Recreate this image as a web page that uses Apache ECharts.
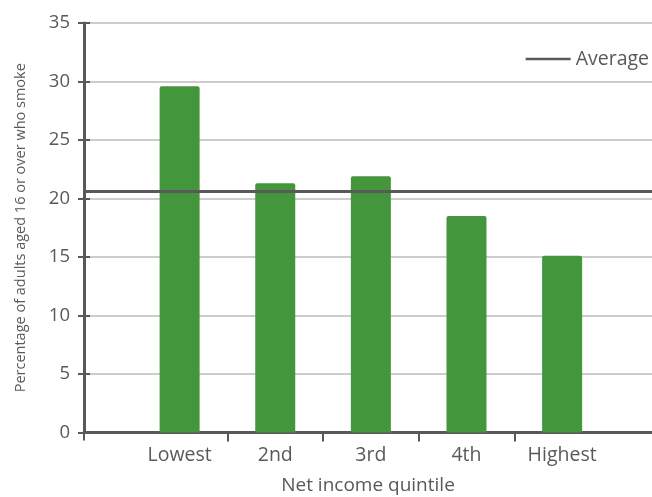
<!DOCTYPE html>
<html>
<head>
<meta charset="utf-8">
<script src="https://cdn.jsdelivr.net/npm/echarts@6/dist/echarts.min.js"></script>
<style>html,body{margin:0;padding:0;background:#fff}#c{width:652px;height:497px}</style>
</head>
<body>
<div id="c"></div>
<script>
const categories = ['Lowest', '2nd', '3rd', '4th', 'Highest'];
const smokers = [29.6, 21.3, 21.9, 18.5, 15.1];
const average = 20.6;
const yTicks = [0, 5, 10, 15, 20, 25, 30, 35];

const GREEN = '#43963b';
const DARK = '#595959';
const TXT = '#595959';
const FONT = '"Open Sans", sans-serif';

const xMin = 0, xMax = 5.94;
const catPos = categories.map((c, i) => i + 1);
const tickPos = [0].concat(categories.slice(1).map((c, i) => i + 1.5));

const chart = echarts.init(document.getElementById('c'), null, {renderer: 'canvas'});
const baseX = {
  type: 'value', min: xMin, max: xMax, gridIndex: 0,
  axisLine: {show: true, onZero: false, lineStyle: {color: DARK, width: 3}},
  splitLine: {show: false}
};
const baseY = {
  type: 'value', min: 0, max: 35, interval: 5, gridIndex: 0
};
chart.setOption({
  animation: false,
  grid: {left: 84, right: 0, top: 23, bottom: 64.5, containLabel: false, outerBoundsMode: 'none'},
  legend: {
    data: [{name: 'Average', icon: 'rect'}],
    right: -2, top: 44,
    itemWidth: 45, itemHeight: 2.5, itemGap: 10,
    textStyle: {color: TXT, fontSize: 19.5, fontFamily: FONT}
  },
  xAxis: [
    Object.assign({}, baseX, {
      name: 'Net income quintile', nameLocation: 'middle', nameGap: 44,
      nameTextStyle: {color: TXT, fontSize: 19, fontFamily: FONT},
      axisTick: {show: true, customValues: tickPos, length: 8, lineStyle: {color: DARK, width: 2}},
      axisLabel: {show: true, customValues: catPos, margin: 13, color: TXT, fontSize: 19.5, fontFamily: FONT,
        formatter: v => categories[Math.round(v) - 1] || ''}
    }),
    Object.assign({}, baseX, {
      axisLine: {show: false},
      axisTick: {show: true, inside: true, customValues: tickPos.slice(1), length: 9, lineStyle: {color: DARK, width: 2}},
      axisLabel: {show: false}
    })
  ],
  yAxis: [
    Object.assign({}, baseY, {
      name: 'Percentage of adults aged 16 or over who smoke', nameLocation: 'middle', nameGap: 56,
      nameTextStyle: {color: TXT, fontSize: 14.5, fontFamily: FONT},
      axisLine: {show: true, lineStyle: {color: DARK, width: 3}},
      axisTick: {show: true, length: 6, lineStyle: {color: DARK, width: 2}},
      axisLabel: {color: TXT, fontSize: 18.5, fontFamily: FONT, margin: 14,
        formatter: v => yTicks.indexOf(v) >= 0 ? String(v) : ''},
      splitLine: {show: true, lineStyle: {color: '#cccccc', width: 2}}
    }),
    Object.assign({}, baseY, {
      position: 'left',
      axisLine: {show: false},
      axisTick: {show: true, inside: true, length: 6, lineStyle: {color: DARK, width: 2}},
      axisLabel: {show: false},
      splitLine: {show: false}
    })
  ],
  series: [
    {
      name: 'Smokers', type: 'bar', xAxisIndex: 0, yAxisIndex: 0,
      barWidth: 40,
      itemStyle: {color: GREEN, borderRadius: [2, 2, 0, 0]},
      data: smokers.map((v, i) => [catPos[i], v]),
      z: 2
    },
    {
      name: 'Average', type: 'line', xAxisIndex: 0, yAxisIndex: 0,
      symbol: 'none', showSymbol: false,
      lineStyle: {color: DARK, width: 3},
      itemStyle: {color: DARK},
      data: [[xMin, average], [xMax, average]],
      z: 5
    }
  ]
});
</script>
</body>
</html>
